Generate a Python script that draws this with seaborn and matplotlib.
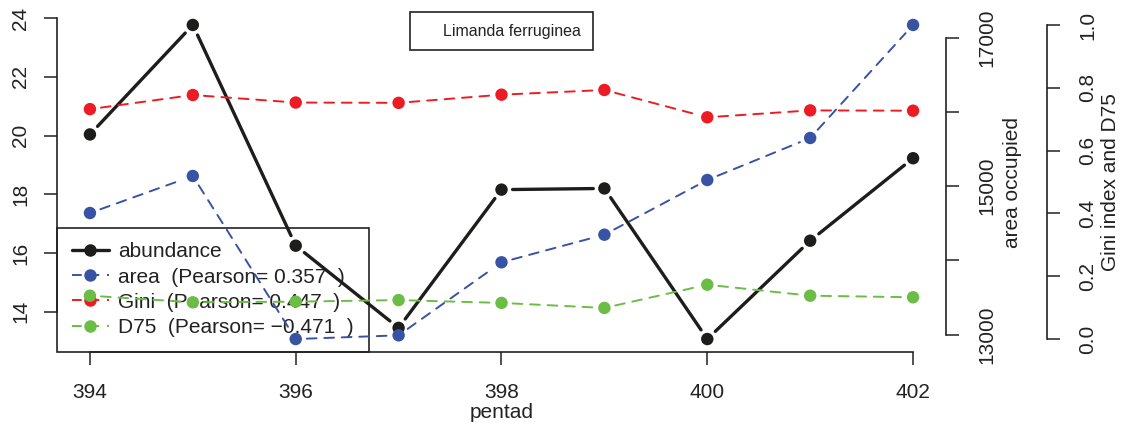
import matplotlib
matplotlib.use("Agg")
import matplotlib.pyplot as plt
import numpy as np
import pandas as pd
import seaborn as sns
from matplotlib.lines import Line2D

# ---- data -------------------------------------------------------------
pentad = [394, 395, 396, 397, 398, 399, 400, 401, 402]
abundance = [20.04, 23.77, 16.25, 13.45, 18.16, 18.20, 13.07, 16.42, 19.23]
area = [14637, 15136, 12939, 12989, 13973, 14345, 15082, 15648, 17171]
gini = [0.732, 0.777, 0.753, 0.752, 0.778, 0.793, 0.706, 0.728, 0.727]
d75 = [0.138, 0.117, 0.119, 0.124, 0.115, 0.099, 0.173, 0.138, 0.133]
pearson_area = 0.357
pearson_gini = 0.447
pearson_d75 = -0.471
species = "Limanda ferruginea"

x_ticks = [394, 396, 398, 400, 402]
abund_ticks = [14, 16, 18, 20, 22, 24]
area_ticks = [13000, 14000, 15000, 16000, 17000]
area_ticklabels = ["13000", "", "15000", "", "17000"]
share_ticks = [0.0, 0.2, 0.4, 0.6, 0.8, 1.0]

# ---- style ------------------------------------------------------------
sns.set_style("ticks")
plt.rcParams["font.family"] = ["Liberation Sans", "DejaVu Sans"]
plt.rcParams["axes.unicode_minus"] = True

C_ABUND = "#1d1d1b"
C_AREA = "#3953a4"
C_GINI = "#ed1c24"
C_D75 = "#6cbd45"
INK = "#222222"
DASH = (0, (5, 4))
FS = 15


def r_range(lo, hi):
    pad = (hi - lo) * 0.04
    return lo - pad, hi + pad


def draw_series(ax, x, y, color, ls, lw, gap=8, size=80):
    df = pd.DataFrame({"x": x, "y": y})
    sns.scatterplot(data=df, x="x", y="y", ax=ax, color=color, s=size,
                    edgecolor="none", linewidth=0, zorder=4, legend=False)
    # connect the points with segments that stop short of each marker
    for x0, y0, x1, y1 in zip(x[:-1], y[:-1], x[1:], y[1:]):
        ax.annotate("", xy=(x1, y1), xytext=(x0, y0),
                    arrowprops=dict(arrowstyle="-", color=color, lw=lw,
                                    linestyle=ls, shrinkA=gap, shrinkB=gap,
                                    capstyle="round"),
                    zorder=3, annotation_clip=False)


fig = plt.figure(figsize=(11.26, 4.32), dpi=100)
ax = fig.add_axes([57 / 1126, 1 - 351.6 / 432, (946 - 57) / 1126, 339.2 / 432])
ax_area = ax.twinx()
ax_share = ax.twinx()

draw_series(ax, pentad, abundance, C_ABUND, "-", 2.4)
draw_series(ax_area, pentad, area, C_AREA, DASH, 1.4)
draw_series(ax_share, pentad, gini, C_GINI, DASH, 1.4)
draw_series(ax_share, pentad, d75, C_D75, DASH, 1.4)

ax.set_xlim(*r_range(min(pentad), max(pentad)))
ax.set_ylim(*r_range(min(abundance), max(abundance)))
ax_area.set_ylim(*r_range(min(area), max(area)))
ax_share.set_ylim(*r_range(0, 1))

for a in (ax, ax_area, ax_share):
    a.set_facecolor("none")
    a.spines["top"].set_visible(False)
    for s in a.spines.values():
        s.set_linewidth(1.2)
        s.set_color(INK)
    a.tick_params(direction="out", length=9.5, width=1.1, color=INK,
                  labelsize=FS, labelcolor=INK)

# host axes: pentad / abundance
ax.spines["right"].set_visible(False)
ax.set_xticks(x_ticks)
ax.set_xticklabels([str(t) for t in x_ticks])
ax.spines["bottom"].set_bounds(min(x_ticks), max(x_ticks))
ax.set_yticks(abund_ticks)
ax.set_yticklabels([str(t) for t in abund_ticks], rotation=90, va="center")
ax.spines["left"].set_bounds(min(abund_ticks), max(abund_ticks))
ax.tick_params(axis="x", pad=13)
ax.tick_params(axis="y", pad=10)
ax.set_xlabel("pentad", fontsize=FS, color=INK)
ax.xaxis.set_label_coords(0.5, -0.152)
ax.set_ylabel("")

# area axis
for side in ("left", "bottom"):
    ax_area.spines[side].set_visible(False)
ax_area.set_yticks(area_ticks)
ax_area.set_yticklabels(area_ticklabels, rotation=90, va="center")
ax_area.spines["right"].set_bounds(min(area_ticks), max(area_ticks))
ax_area.tick_params(axis="y", pad=13)
ax_area.set_ylabel("area occupied", fontsize=FS, color=INK, rotation=90)
ax_area.yaxis.set_label_coords(1.064, 0.5)
ax_area.set_xlabel("")

# Gini / D75 axis
for side in ("left", "bottom"):
    ax_share.spines[side].set_visible(False)
ax_share.spines["right"].set_position(("outward", 72.7))
ax_share.set_yticks(share_ticks)
ax_share.set_yticklabels([f"{t:.1f}" for t in share_ticks], rotation=90, va="center")
ax_share.spines["right"].set_bounds(0, 1)
ax_share.tick_params(axis="y", pad=13)
ax_share.set_ylabel("Gini index and D75", fontsize=FS, color=INK, rotation=90)
ax_share.yaxis.set_label_coords(1.174, 0.5)
ax_share.set_xlabel("")

# legend of the series
handles = [
    Line2D([], [], color=C_ABUND, lw=2.4, marker="o", ms=9, mec="none"),
    Line2D([], [], color=C_AREA, lw=1.4, ls=DASH, marker="o", ms=9, mec="none"),
    Line2D([], [], color=C_GINI, lw=1.4, ls=DASH, marker="o", ms=9, mec="none"),
    Line2D([], [], color=C_D75, lw=1.4, ls=DASH, marker="o", ms=9, mec="none"),
]
labels = [
    "abundance",
    f"area  (Pearson= {pearson_area:.3f}  )",
    f"Gini  (Pearson= {pearson_gini:.3f}  )",
    f"D75  (Pearson= {pearson_d75:.3f}  )".replace("-", "\u2212"),
]
leg = ax.legend(handles, labels, loc="lower left", bbox_to_anchor=(0, 0),
                borderaxespad=0, fontsize=FS, frameon=True, fancybox=False,
                edgecolor=INK, facecolor="white", framealpha=1,
                borderpad=0.7, labelspacing=0.3, handlelength=1.8,
                handletextpad=0.45)
leg.get_frame().set_linewidth(1.2)
for t in leg.get_texts():
    t.set_color(INK)
leg.set_zorder(1)

# species box at the top
sp = ax_share.legend([Line2D([], [], ls="none")], [species], loc="upper center",
                     bbox_to_anchor=(0.5, 1.0), borderaxespad=0, fontsize=11.5,
                     frameon=True, fancybox=False, edgecolor=INK,
                     facecolor="white", framealpha=1, borderpad=0.72,
                     handlelength=1.0, handletextpad=0.35)
sp.get_frame().set_linewidth(1.2)
sp.get_texts()[0].set_color(INK)

fig.savefig("out.png", dpi=100)
